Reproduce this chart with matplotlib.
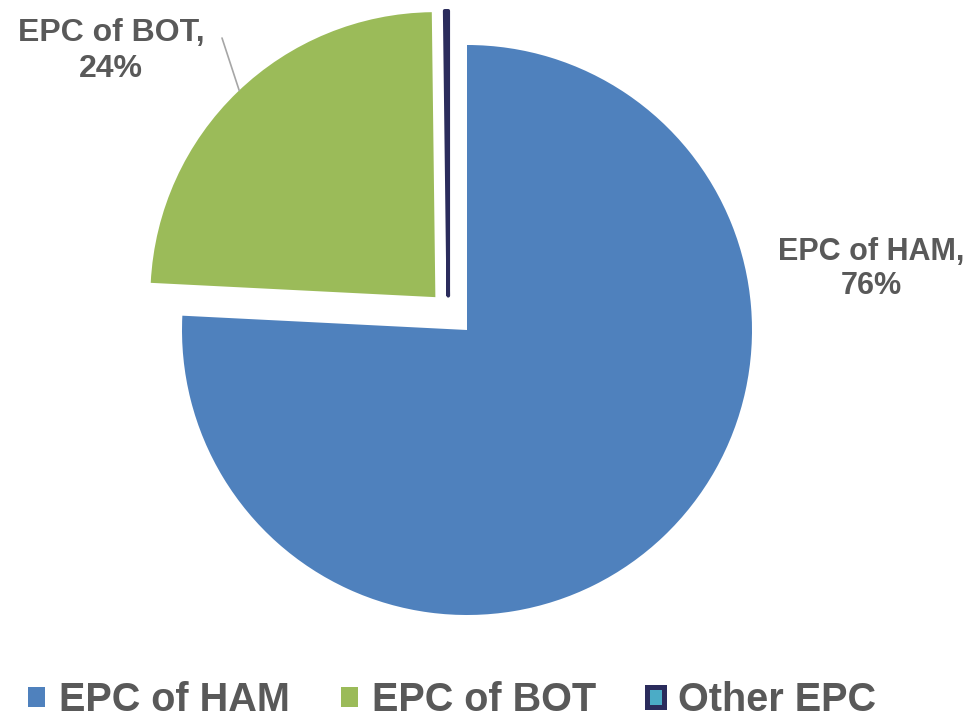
import matplotlib
matplotlib.use("Agg")
import matplotlib.pyplot as plt
import numpy as np

categories = ["EPC of HAM", "EPC of BOT", "Other EPC"]
values = [75.8, 24.0, 0.2]
label_pct = ["76%", "24%"]

face_colors = ["#4F81BD", "#9BBB59", "#4BACC6"]
edge_colors = ["#4F81BD", "#9BBB59", "#2B2C5C"]
edge_widths = [0, 0, 2.6]
explode = [0, 0.16, 0.12]
text_color = "#595959"

plt.rcParams['font.family'] = ['Liberation Sans', 'DejaVu Sans']

W, H = 969, 718
fig = plt.figure(figsize=(W / 100, H / 100), dpi=100)
ax = fig.add_axes([0, 0, 1, 1])

wedges, _ = ax.pie(values, startangle=90, counterclock=False, explode=explode,
                   colors=face_colors, radius=1.0)
for w, ec, lw in zip(wedges, edge_colors, edge_widths):
    w.set_edgecolor(ec)
    w.set_linewidth(lw)
    w.set_joinstyle('round')
# small horizontal nudge of the thin wedge
cx, cy = wedges[2].center
wedges[2].set_center((cx - 0.065, cy))

# axes scale: radius 1 = 285 px, centre at (467, 330) px from top-left
R = 285.0
cxp, cyp = 467.0, 330.0
ax.set_xlim(-cxp / R, (W - cxp) / R)
ax.set_ylim(-(H - cyp) / R, cyp / R)
ax.set_aspect('equal')
ax.axis('off')

def px(x, y):
    return ((x - cxp) / R, (cyp - y) / R)

# data labels
ax.text(*px(871, 269), f"{categories[0]},\n{label_pct[0]}", ha='center', va='center',
        fontsize=22, fontweight='bold', color=text_color, linespacing=1.15)
ax.text(*px(111, 51), f"{categories[1]},\n{label_pct[1]}", ha='center', va='center',
        fontsize=23, fontweight='bold', color=text_color, linespacing=1.3)

# leader line for BOT label to its wedge edge
w = wedges[1]
bx, by = w.center
tip = (bx + w.r * np.cos(np.deg2rad(133.5)), by + w.r * np.sin(np.deg2rad(133.5)))
ax.annotate("", xy=tip, xytext=px(222, 38),
            arrowprops=dict(arrowstyle='-', color='#A6A6A6', lw=1.2,
                            shrinkA=0, shrinkB=0))

leg = fig.legend(wedges, categories, loc='center', bbox_to_anchor=(452 / W, 1 - 700 / H),
                 ncol=3, frameon=False, handlelength=0.42, handleheight=0.42,
                 handletextpad=0.35, columnspacing=1.3,
                 prop={'size': 28.5, 'weight': 'bold'})
for t in leg.get_texts():
    t.set_color(text_color)
leg.legend_handles[2].set_linewidth(3.6)

fig.savefig("out.png", dpi=100)
